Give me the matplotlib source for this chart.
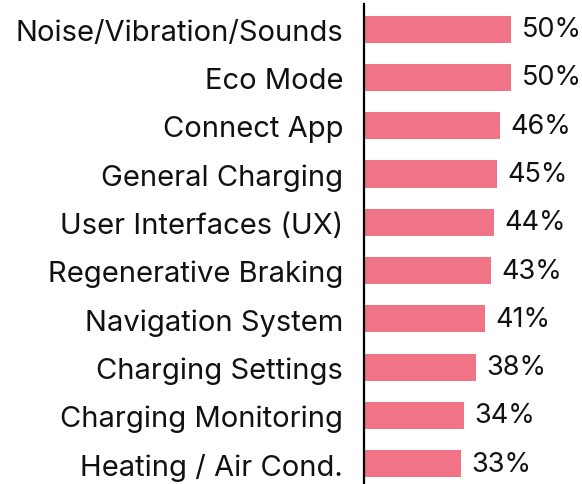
import matplotlib
matplotlib.use("Agg")
import matplotlib.pyplot as plt

plt.rcParams["font.family"] = ["Inter", "DejaVu Sans"]

categories = [
    "Noise/Vibration/Sounds",
    "Eco Mode",
    "Connect App",
    "General Charging",
    "User Interfaces (UX)",
    "Regenerative Braking",
    "Navigation System",
    "Charging Settings",
    "Charging Monitoring",
    "Heating / Air Cond.",
]
values = [50, 50, 46, 45, 44, 43, 41, 38, 34, 33]

BAR = "#F07386"

fig = plt.figure(figsize=(5.82, 4.85), dpi=100)
ax = fig.add_axes([364 / 582, 0, 218 / 582, 480 / 485])

pos = list(range(len(categories)))
ax.barh(pos, values, height=0.56, color=BAR)

for p, v in zip(pos, values):
    ax.annotate(f"{v}%", xy=(v, p), xytext=(7.5, 0), textcoords="offset points",
                ha="left", va="center", fontsize=19.5, color="#111111")

ax.set_yticks(pos)
ax.set_yticklabels(categories, fontsize=21, color="#111111")
ax.tick_params(axis="y", length=0, pad=15)
ax.set_xticks([])
ax.set_xlim(0, 74)
ax.set_ylim(9.42, -0.52)

for s in ["top", "right", "bottom"]:
    ax.spines[s].set_visible(False)
ax.spines["left"].set_linewidth(1.6)
ax.spines["left"].set_color("black")

fig.savefig("out.png", dpi=100)
